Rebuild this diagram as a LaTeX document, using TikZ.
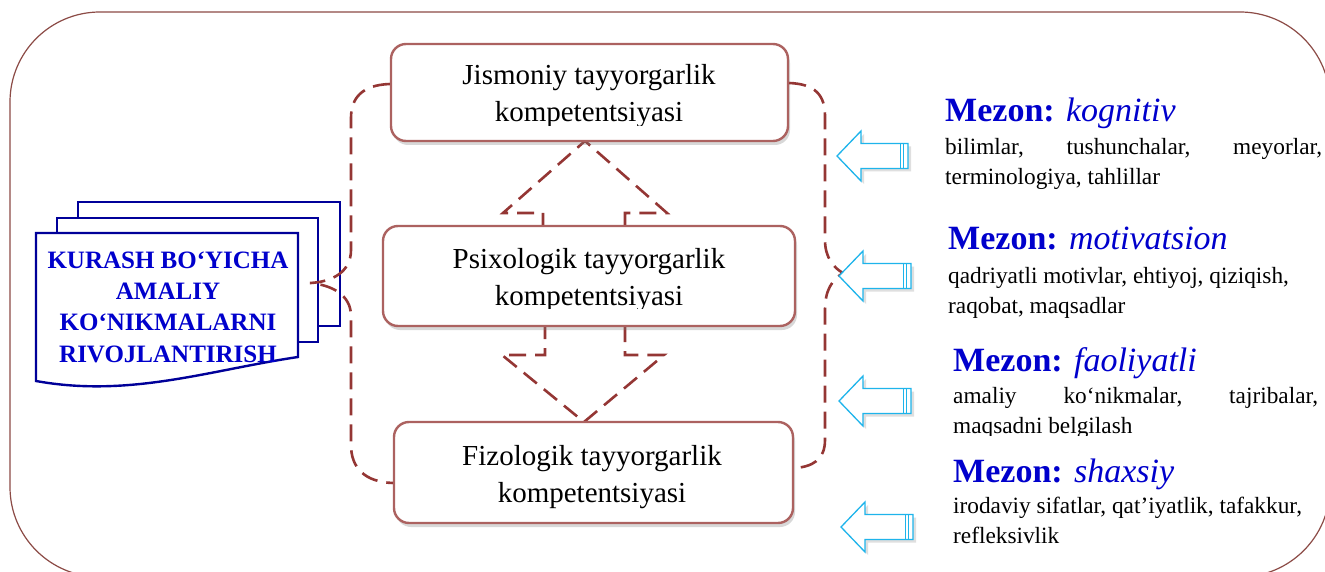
\documentclass[tikz,border=0pt]{standalone}
\usepackage{fontspec}
\setmainfont{Liberation Serif}
\usetikzlibrary{shadows,calc}
\definecolor{dred}{RGB}{148,54,52}
\definecolor{boxred}{RGB}{172,98,96}
\definecolor{outerc}{RGB}{140,75,70}
\definecolor{docblue}{RGB}{0,0,153}
\definecolor{txtblue}{RGB}{0,0,204}
\definecolor{arrblue}{RGB}{30,180,235}
\tikzset{
  dashline/.style={draw=dred, line width=2.6pt, dash pattern=on 17pt off 9pt, line cap=butt},
  compbox/.style={draw=boxred, line width=2.4pt, fill=white, rounded corners=15pt, inner sep=0pt,
    drop shadow={shadow xshift=2pt, shadow yshift=-4pt, opacity=0.3}},
  boxtext/.style={align=center, inner sep=0pt, font=\fontsize{29}{37}\selectfont},
  docpage/.style={draw=docblue, line width=2.4pt, fill=white},
  doctext/.style={align=center, inner sep=0pt, text=txtblue, font=\fontsize{25}{31.3}\selectfont\bfseries},
  mezonhead/.style={anchor=base west, inner sep=0pt, text=txtblue, font=\fontsize{34}{40}\selectfont},
  mezonbody/.style={anchor=base west, inner sep=0pt, align=left, font=\fontsize{23.3}{30}\selectfont},
  bluearrowshape/.style={draw=arrblue, line width=1.3pt, fill=white,
    drop shadow={shadow xshift=3pt, shadow yshift=-3pt, opacity=0.25}},
  outerframe/.style={draw=outerc, line width=1.2pt, rounded corners=90pt},
}
\newcommand\leftblarrow[3]{%
  \draw[bluearrowshape] (#1,#2) -- (#1+24,#2-25) -- (#1+24,#2-12.5) -- (#3,#2-12.5) -- (#3,#2+12.5)
     -- (#1+24,#2+12.5) -- (#1+24,#2+25) -- cycle;
  \draw[arrblue, line width=0.8pt] (#3-4.5,#2-12.5) -- (#3-4.5,#2+12.5)
     (#3-7.5,#2-12.5) -- (#3-7.5,#2+12.5);
}
\begin{document}
\begin{tikzpicture}[x=1pt,y=-1pt]
\useasboundingbox (0,0) rectangle (1325,572);
\fill[white] (0,0) rectangle (1325,572);
\begin{scope}
  \clip (0,0) rectangle (1325,572);
  \draw[outerframe] (10,12) rectangle (1330,577);
\end{scope}

% multi-document shape
\draw[docpage] (78,202) rectangle (340,326);
\draw[docpage] (57,218) rectangle (318,342);
\draw[docpage] (36,233) -- (298,233) -- (298,357) .. controls (210,370) and (130,398) .. (36,381) -- cycle;
\node[doctext, anchor=base] (doc) at (168,362) {KURASH BO‘YICHA\\AMALIY\\KO‘NIKMALARNI\\RIVOJLANTIRISH};

% dashed block arrows between boxes
\draw[dashline] (543,230) -- (543,213) -- (503,213) -- (585,141) -- (667,213) -- (625,213) -- (625,230);
\draw[dashline] (545,322) -- (545,355) -- (502,355) -- (584,422) -- (664,355) -- (625,355) -- (625,322);

% competence boxes
\node[compbox, minimum width=397pt, minimum height=97pt] (b1) at (589.5,92.5) {};
\node[compbox, minimum width=412pt, minimum height=100pt] (b2) at (589,276) {};
\node[compbox, minimum width=399pt, minimum height=101pt] (b3) at (593.5,472.5) {};

\begin{scope}
  \clip (380,40) rectangle (800,125.5);
  \node[boxtext, anchor=base] (t1) at (589,122) {Jismoniy tayyorgarlik\\kompetentsiyasi};
\end{scope}
\begin{scope}
  \clip (375,220) rectangle (805,308);
  \node[boxtext, anchor=base] (t2) at (589,305) {Psixologik tayyorgarlik\\kompetentsiyasi};
\end{scope}
\node[boxtext, anchor=base] (t3) at (592,502) {Fizologik tayyorgarlik\\kompetentsiyasi};

% braces
\draw[dashline] ([yshift=8.5pt]b1.west) .. controls (362,85) and (351,98) .. (351,118) -- (351,250)
   .. controls (351,272) and (332,282) .. (310,283)
   .. controls (332,285) and (351,295) .. (351,316) -- (351,445)
   .. controls (351,468) and (365,482) .. ([yshift=-10.5pt]b3.west);
\draw[dashline] ([yshift=9.5pt]b1.east) .. controls (815,84) and (825,95) .. (825,116) -- (825,240)
   .. controls (825,258) and (834,268) .. (843,273)
   .. controls (832,280) and (825,290) .. (825,310) -- (825,440)
   .. controls (825,460) and (812,467) .. ([yshift=4.5pt]b3.east);

% blue arrows
\leftblarrow{837}{156}{908}
\leftblarrow{839}{276}{911}
\leftblarrow{839}{401}{911}
\leftblarrow{841}{527}{913}

% criteria
\node[mezonhead] (m1) at (945,122) {\textbf{Mezon:} \textit{kognitiv}};
\node[mezonbody] (d1) at (945,185) {\hbox to 377pt{bilimlar,\hfill tushunchalar,\hfill meyorlar,}\\terminologiya, tahlillar};
\node[mezonhead] (m2) at (948,250) {\textbf{Mezon:} \textit{motivatsion}};
\node[mezonbody] (d2) at (948,313) {qadriyatli motivlar, ehtiyoj, qiziqish,\\raqobat, maqsadlar};
\node[mezonhead] (m3) at (953,371) {\textbf{Mezon:} \textit{faoliyatli}};
\begin{scope}
  \clip (940,380) rectangle (1325,435);
  \node[mezonbody] (d3) at (953,433) {\hbox to 365pt{amaliy\hfill ko‘nikmalar,\hfill tajribalar,}\\maqsadni belgilash};
\end{scope}
\node[mezonhead] (m4) at (953,482) {\textbf{Mezon:} \textit{shaxsiy}};
\begin{scope}
  \clip (940,490) rectangle (1325,546);
  \node[mezonbody] (d4) at (953,543) {irodaviy sifatlar, qat’iyatlik, tafakkur,\\refleksivlik};
\end{scope}
\end{tikzpicture}
\end{document}
